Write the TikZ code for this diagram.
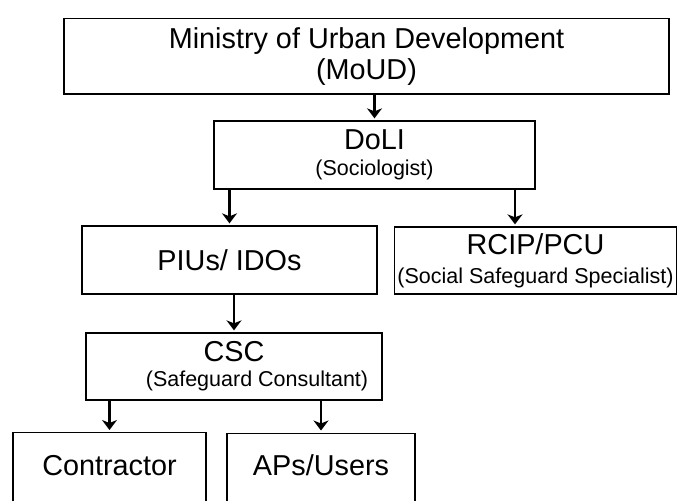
\documentclass[tikz,border=0pt]{standalone}
\usepackage{fontspec}
\setmainfont{Liberation Sans}
\usetikzlibrary{arrows.meta}
\newcommand{\bigfont}{\fontsize{28.8}{31}\selectfont}
\newcommand{\smallfont}{\fontsize{21.5}{26}\selectfont}
\tikzset{
  box/.style={draw, line width=1.3pt, rectangle, inner sep=0pt, align=center, font=\bigfont},
  arr/.style={-{Stealth[length=10pt,width=15pt,inset=3pt]}, line width=2.3pt, shorten >=2pt},
}
\begin{document}
\begin{tikzpicture}[x=1pt,y=1pt]
  \useasboundingbox (0,0) rectangle (678,-501);
  \clip (0,0) rectangle (678,-501);
  \node[box, line width=1.8pt, minimum width=605pt, minimum height=75.5pt] (moud) at (366.5,-56.25)
    {Ministry of Urban Development\\(MoUD)};
  \node[box, minimum width=321pt, minimum height=68pt] (doli) at (374.5,-155)
    {DoLI\\[-5pt]{\smallfont (Sociologist)}};
  \node[box, minimum width=295pt, minimum height=68pt] (pius) at (229.5,-260) {PIUs/ IDOs};
  \node[box, minimum width=282pt, minimum height=67pt] (rcip) at (535.5,-260.5)
    {RCIP/PCU\\[-2pt]{\smallfont (Social Safeguard Specialist)}};
  \node[box, minimum width=296pt, minimum height=67pt] (csc) at (234,-366.5)
    {CSC\\[-6pt]{\smallfont\hspace*{46pt}(Safeguard Consultant)}};
  \node[box, minimum width=193pt, text height=43pt, text depth=45pt, anchor=north] (con) at (109.5,-432)
    {Contractor};
  \node[box, minimum width=188pt, text height=42.5pt, text depth=45pt, anchor=north] (aps) at (321,-432.5)
    {APs/Users};
  \coordinate (rcipin) at ([xshift=-20.5pt]rcip.north);
  \draw [arr] (moud.south -| doli.north) -- (doli.north);
  \draw [arr] (doli.south -| pius.north) -- (pius.north);
  \draw [arr] (doli.south -| rcipin) -- (rcipin);
  \draw [arr] (pius.south -| csc.north) -- (csc.north);
  \draw [arr] (csc.south -| con.north) -- (con.north);
  \draw [arr] (csc.south -| aps.north) -- (aps.north);
\end{tikzpicture}
\end{document}
